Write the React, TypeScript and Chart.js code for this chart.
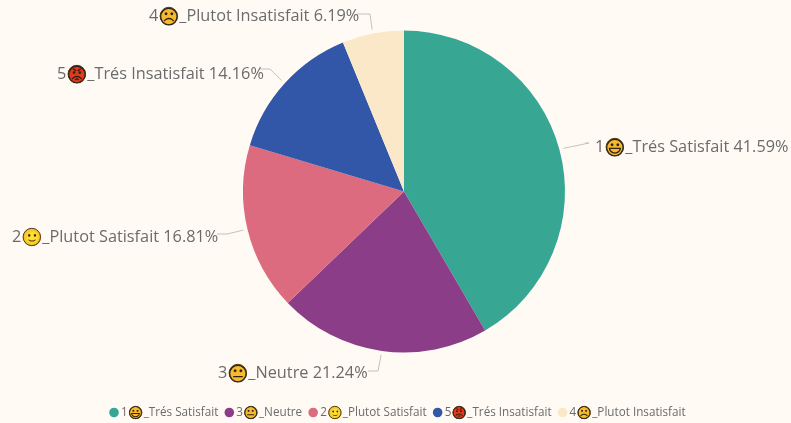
import React, { useEffect, useRef } from "react";
import { Chart, registerables } from "chart.js";

Chart.register(...registerables);

const numbers = ["1", "3", "2", "5", "4"];
const emojis = ["😃", "😐", "🙂", "😡", "☹"];
const names = ["_Trés Satisfait", "_Neutre", "_Plutot Satisfait", "_Trés Insatisfait", "_Plutot Insatisfait"];
const values = [41.59, 21.24, 16.81, 14.16, 6.19];
const colors = ["#37A794", "#8B3D88", "#DD6B7F", "#3257A8", "#FAE8C8"];
const faceColors = ["#F9B92C", "#F9B92C", "#F9B92C", "#E5391B", "#F9B92C"];
const BG = "#FFFBF4";
const FONT = '"Open Sans", sans-serif';
const TEXT = "#6B6B6B";

const labelX = [595, 218, 12, 57, 149];
const labelY = [147, 373, 237, 74, 16];
const elbowX = [589, 378, 227, 270, 370];
const elbowY = [143, 371, 234, 69, 14];
const lineEndX = [585, 368, 217, 259, 357];

function drawFace(ctx: CanvasRenderingContext2D, cx: number, cy: number, d: number, i: number) {
  ctx.save();
  ctx.beginPath();
  ctx.arc(cx, cy, d / 2, 0, Math.PI * 2);
  ctx.fillStyle = faceColors[i];
  ctx.fill();
  ctx.font = '100px "DejaVu Sans"';
  ctx.textAlign = "left";
  ctx.textBaseline = "alphabetic";
  const m0 = ctx.measureText(emojis[i]);
  const w0 = m0.actualBoundingBoxRight + m0.actualBoundingBoxLeft;
  const size = (100 * d) / w0;
  ctx.font = `${size}px "DejaVu Sans"`;
  const m = ctx.measureText(emojis[i]);
  const gw = m.actualBoundingBoxRight + m.actualBoundingBoxLeft;
  const gh = m.actualBoundingBoxAscent + m.actualBoundingBoxDescent;
  ctx.fillStyle = "#2b2418";
  ctx.fillText(
    emojis[i],
    cx - gw / 2 + m.actualBoundingBoxLeft,
    cy - gh / 2 + m.actualBoundingBoxAscent
  );
  ctx.beginPath();
  ctx.arc(cx, cy, d / 2 - 0.3, 0, Math.PI * 2);
  ctx.lineWidth = 0.9;
  ctx.strokeStyle = "#3a3020";
  ctx.stroke();
  ctx.restore();
}

function drawRun(ctx: CanvasRenderingContext2D, i: number, x: number, y: number, size: number, faceD: number, suffix: string) {
  ctx.font = `${size}px ${FONT}`;
  ctx.textBaseline = "middle";
  ctx.textAlign = "left";
  ctx.fillStyle = TEXT;
  ctx.fillText(numbers[i], x, y);
  let cur = x + ctx.measureText(numbers[i]).width + 1.5;
  drawFace(ctx, cur + faceD / 2, y, faceD, i);
  cur += faceD + 1.5;
  ctx.font = `${size}px ${FONT}`;
  ctx.fillStyle = TEXT;
  ctx.textBaseline = "middle";
  ctx.textAlign = "left";
  ctx.fillText(names[i] + suffix, cur, y);
  return cur + ctx.measureText(names[i] + suffix).width;
}

const labelsPlugin = {
  id: "sliceLabels",
  afterDatasetsDraw(chart: any) {
    const ctx: CanvasRenderingContext2D = chart.ctx;
    const arcs = chart.getDatasetMeta(0).data;
    ctx.save();
    arcs.forEach((arc: any, i: number) => {
      const mid = (arc.startAngle + arc.endAngle) / 2;
      const r = arc.outerRadius + 4;
      ctx.beginPath();
      ctx.moveTo(arc.x + Math.cos(mid) * r, arc.y + Math.sin(mid) * r);
      ctx.lineTo(elbowX[i], elbowY[i]);
      ctx.lineTo(lineEndX[i], elbowY[i]);
      ctx.strokeStyle = "#C4C2BD";
      ctx.lineWidth = 1;
      ctx.stroke();
      drawRun(ctx, i, labelX[i], labelY[i], 16.3, 18, " " + values[i].toFixed(2) + "%");
    });
    ctx.restore();
  },
};

const legendPlugin = {
  id: "faceLegend",
  afterDraw(chart: any) {
    const ctx: CanvasRenderingContext2D = chart.ctx;
    const size = 11.7;
    const y = 412.5;
    ctx.save();
    let x = 109;
    names.forEach((_, i) => {
      ctx.beginPath();
      ctx.arc(x + 5, y, 4.8, 0, Math.PI * 2);
      ctx.fillStyle = colors[i];
      ctx.fill();
      const end = drawRun(ctx, i, x + 12, y, size, 13, "");
      x = end + 6;
    });
    ctx.restore();
  },
};

export default function App() {
  const ref = useRef<HTMLCanvasElement>(null);
  useEffect(() => {
    const chart = new Chart(ref.current!, {
      type: "pie",
      data: {
        labels: names.map((n, i) => numbers[i] + emojis[i] + n),
        datasets: [{ data: values, backgroundColor: colors, borderWidth: 0 }],
      },
      options: {
        responsive: false,
        animation: false,
        layout: { padding: { left: 243, right: 226, top: 30, bottom: 70 } },
        plugins: { legend: { display: false }, tooltip: { enabled: false } },
      },
      plugins: [labelsPlugin, legendPlugin],
    });
    return () => chart.destroy();
  }, []);
  return (
    <div style={{ position: "fixed", left: 0, top: 0, width: 791, height: 423, background: BG }}>
      <canvas ref={ref} width={791} height={423} style={{ display: "block" }} />
    </div>
  );
}
